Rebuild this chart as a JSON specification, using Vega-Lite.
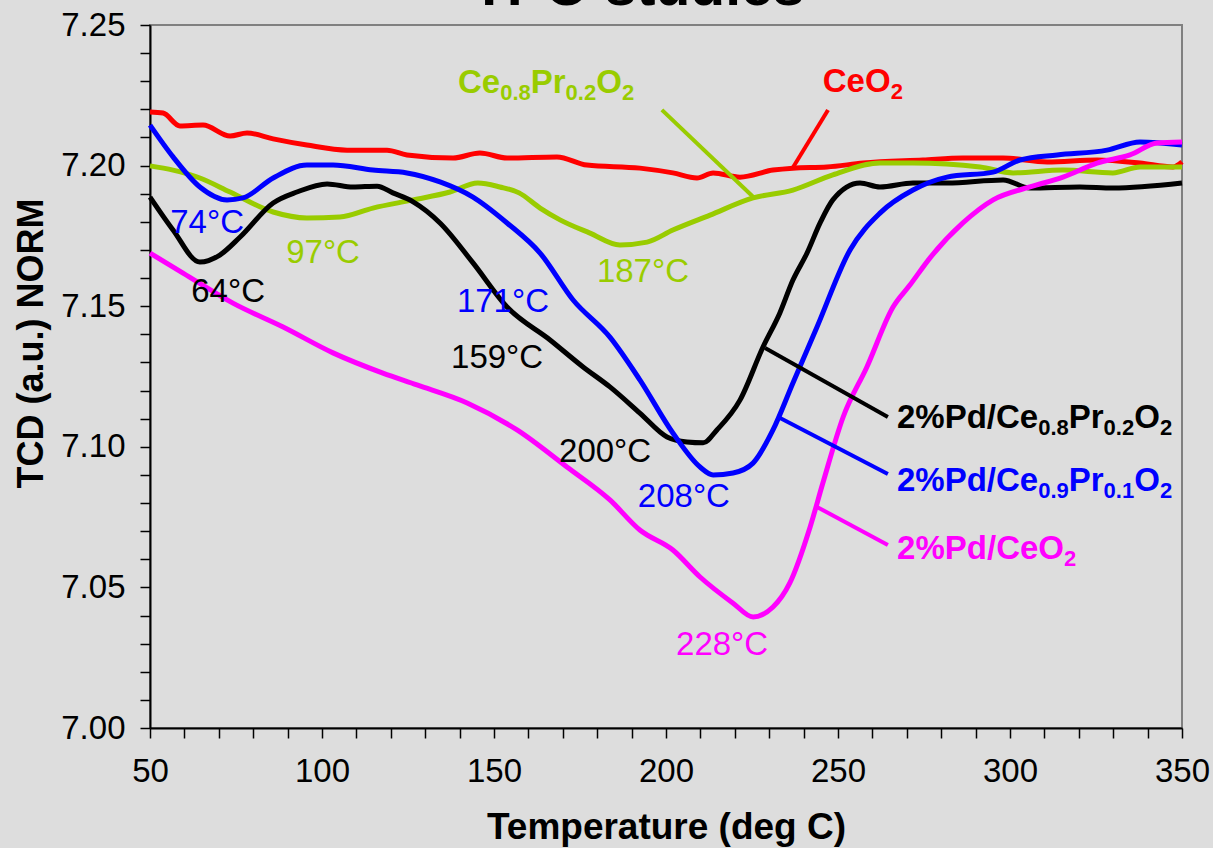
{
  "$schema": "https://vega.github.io/schema/vega-lite/v6.json",
  "width": 1032,
  "height": 703,
  "autosize": "none",
  "padding": {"left": 150, "top": 25, "right": 31, "bottom": 120},
  "background": "#dddddd",
  "config": {
    "font": "Liberation Sans",
    "view": {"stroke": "#808080", "strokeWidth": 2, "fill": "#dddddd"}
  },
  "datasets": {
    "heading": [
      {"T": 191.9, "v": 7.2570, "text": "TPO studies"}
    ],
    "curves": [
      {"s": "CeO2", "T": 50, "v": 7.2191}, {"s": "CeO2", "T": 53.8, "v": 7.2187}, {"s": "CeO2", "T": 58.7, "v": 7.2141}, {"s": "CeO2", "T": 65.4, "v": 7.2144}, {"s": "CeO2", "T": 73.3, "v": 7.2105}, {"s": "CeO2", "T": 78.2, "v": 7.2116}, {"s": "CeO2", "T": 85.8, "v": 7.2095}, {"s": "CeO2", "T": 95.6, "v": 7.2073}, {"s": "CeO2", "T": 107.3, "v": 7.2055}, {"s": "CeO2", "T": 118.9, "v": 7.2055}, {"s": "CeO2", "T": 124.7, "v": 7.2038}, {"s": "CeO2", "T": 138.1, "v": 7.2027}, {"s": "CeO2", "T": 145.9, "v": 7.2045}, {"s": "CeO2", "T": 153.8, "v": 7.2027}, {"s": "CeO2", "T": 168.3, "v": 7.2031}, {"s": "CeO2", "T": 177.0, "v": 7.2002}, {"s": "CeO2", "T": 192.4, "v": 7.1991}, {"s": "CeO2", "T": 202.0, "v": 7.1974}, {"s": "CeO2", "T": 209.0, "v": 7.1956}, {"s": "CeO2", "T": 213.7, "v": 7.1974}, {"s": "CeO2", "T": 221.5, "v": 7.1959}, {"s": "CeO2", "T": 231.1, "v": 7.1984}, {"s": "CeO2", "T": 236.9, "v": 7.1991}, {"s": "CeO2", "T": 246.8, "v": 7.1995}, {"s": "CeO2", "T": 257.3, "v": 7.2009}, {"s": "CeO2", "T": 274.7, "v": 7.2020}, {"s": "CeO2", "T": 286.3, "v": 7.2027}, {"s": "CeO2", "T": 298.0, "v": 7.2027}, {"s": "CeO2", "T": 310.8, "v": 7.2013}, {"s": "CeO2", "T": 325.3, "v": 7.2020}, {"s": "CeO2", "T": 337.8, "v": 7.2009}, {"s": "CeO2", "T": 347.4, "v": 7.1995}, {"s": "CeO2", "T": 350, "v": 7.2013},

      {"s": "Ce0.8Pr0.2O2", "T": 50, "v": 7.1999}, {"s": "Ce0.8Pr0.2O2", "T": 56.7, "v": 7.1984}, {"s": "Ce0.8Pr0.2O2", "T": 64.5, "v": 7.1956}, {"s": "Ce0.8Pr0.2O2", "T": 73.3, "v": 7.1906}, {"s": "Ce0.8Pr0.2O2", "T": 85.8, "v": 7.1835}, {"s": "Ce0.8Pr0.2O2", "T": 95.6, "v": 7.1814}, {"s": "Ce0.8Pr0.2O2", "T": 105.2, "v": 7.1817}, {"s": "Ce0.8Pr0.2O2", "T": 114.8, "v": 7.1849}, {"s": "Ce0.8Pr0.2O2", "T": 126.5, "v": 7.1878}, {"s": "Ce0.8Pr0.2O2", "T": 137.2, "v": 7.1906}, {"s": "Ce0.8Pr0.2O2", "T": 145.3, "v": 7.1938}, {"s": "Ce0.8Pr0.2O2", "T": 151.7, "v": 7.1924}, {"s": "Ce0.8Pr0.2O2", "T": 157.3, "v": 7.1903}, {"s": "Ce0.8Pr0.2O2", "T": 163.4, "v": 7.1849}, {"s": "Ce0.8Pr0.2O2", "T": 169.2, "v": 7.1807}, {"s": "Ce0.8Pr0.2O2", "T": 177.9, "v": 7.1760}, {"s": "Ce0.8Pr0.2O2", "T": 186.6, "v": 7.1718}, {"s": "Ce0.8Pr0.2O2", "T": 194.5, "v": 7.1728}, {"s": "Ce0.8Pr0.2O2", "T": 202.0, "v": 7.1771}, {"s": "Ce0.8Pr0.2O2", "T": 212.8, "v": 7.1824}, {"s": "Ce0.8Pr0.2O2", "T": 225.3, "v": 7.1885}, {"s": "Ce0.8Pr0.2O2", "T": 236.9, "v": 7.1913}, {"s": "Ce0.8Pr0.2O2", "T": 248.5, "v": 7.1967}, {"s": "Ce0.8Pr0.2O2", "T": 262.2, "v": 7.2009}, {"s": "Ce0.8Pr0.2O2", "T": 271.8, "v": 7.2009}, {"s": "Ce0.8Pr0.2O2", "T": 291.3, "v": 7.1995}, {"s": "Ce0.8Pr0.2O2", "T": 300.9, "v": 7.1974}, {"s": "Ce0.8Pr0.2O2", "T": 315.4, "v": 7.1984}, {"s": "Ce0.8Pr0.2O2", "T": 329.9, "v": 7.1974}, {"s": "Ce0.8Pr0.2O2", "T": 337.8, "v": 7.1995}, {"s": "Ce0.8Pr0.2O2", "T": 350, "v": 7.1995},

      {"s": "Pd/Ce0.8Pr0.2O2", "T": 50, "v": 7.1888}, {"s": "Pd/Ce0.8Pr0.2O2", "T": 56.7, "v": 7.1771}, {"s": "Pd/Ce0.8Pr0.2O2", "T": 64.5, "v": 7.1657}, {"s": "Pd/Ce0.8Pr0.2O2", "T": 70.3, "v": 7.1682}, {"s": "Pd/Ce0.8Pr0.2O2", "T": 76.2, "v": 7.1746}, {"s": "Pd/Ce0.8Pr0.2O2", "T": 85.8, "v": 7.1867}, {"s": "Pd/Ce0.8Pr0.2O2", "T": 92.7, "v": 7.1906}, {"s": "Pd/Ce0.8Pr0.2O2", "T": 101.5, "v": 7.1935}, {"s": "Pd/Ce0.8Pr0.2O2", "T": 109.0, "v": 7.1924}, {"s": "Pd/Ce0.8Pr0.2O2", "T": 116.0, "v": 7.1927}, {"s": "Pd/Ce0.8Pr0.2O2", "T": 120.6, "v": 7.1903}, {"s": "Pd/Ce0.8Pr0.2O2", "T": 126.5, "v": 7.1871}, {"s": "Pd/Ce0.8Pr0.2O2", "T": 134.3, "v": 7.1796}, {"s": "Pd/Ce0.8Pr0.2O2", "T": 143.9, "v": 7.1654}, {"s": "Pd/Ce0.8Pr0.2O2", "T": 153.8, "v": 7.1497}, {"s": "Pd/Ce0.8Pr0.2O2", "T": 166.3, "v": 7.1380}, {"s": "Pd/Ce0.8Pr0.2O2", "T": 175.9, "v": 7.1284}, {"s": "Pd/Ce0.8Pr0.2O2", "T": 183.7, "v": 7.1213}, {"s": "Pd/Ce0.8Pr0.2O2", "T": 192.4, "v": 7.1120}, {"s": "Pd/Ce0.8Pr0.2O2", "T": 200.3, "v": 7.1035}, {"s": "Pd/Ce0.8Pr0.2O2", "T": 206.1, "v": 7.1017}, {"s": "Pd/Ce0.8Pr0.2O2", "T": 210.8, "v": 7.1014}, {"s": "Pd/Ce0.8Pr0.2O2", "T": 214.8, "v": 7.1060}, {"s": "Pd/Ce0.8Pr0.2O2", "T": 221.5, "v": 7.1166}, {"s": "Pd/Ce0.8Pr0.2O2", "T": 228.2, "v": 7.1355}, {"s": "Pd/Ce0.8Pr0.2O2", "T": 233.1, "v": 7.1476}, {"s": "Pd/Ce0.8Pr0.2O2", "T": 236.9, "v": 7.1593}, {"s": "Pd/Ce0.8Pr0.2O2", "T": 241.0, "v": 7.1689}, {"s": "Pd/Ce0.8Pr0.2O2", "T": 244.8, "v": 7.1796}, {"s": "Pd/Ce0.8Pr0.2O2", "T": 248.5, "v": 7.1878}, {"s": "Pd/Ce0.8Pr0.2O2", "T": 256.4, "v": 7.1938}, {"s": "Pd/Ce0.8Pr0.2O2", "T": 262.2, "v": 7.1924}, {"s": "Pd/Ce0.8Pr0.2O2", "T": 271.8, "v": 7.1938}, {"s": "Pd/Ce0.8Pr0.2O2", "T": 281.7, "v": 7.1938}, {"s": "Pd/Ce0.8Pr0.2O2", "T": 298.0, "v": 7.1949}, {"s": "Pd/Ce0.8Pr0.2O2", "T": 305.8, "v": 7.1920}, {"s": "Pd/Ce0.8Pr0.2O2", "T": 320.3, "v": 7.1924}, {"s": "Pd/Ce0.8Pr0.2O2", "T": 329.9, "v": 7.1920}, {"s": "Pd/Ce0.8Pr0.2O2", "T": 350, "v": 7.1938},

      {"s": "Pd/Ce0.9Pr0.1O2", "T": 50, "v": 7.2144}, {"s": "Pd/Ce0.9Pr0.1O2", "T": 56.7, "v": 7.2031}, {"s": "Pd/Ce0.9Pr0.1O2", "T": 64.5, "v": 7.1924}, {"s": "Pd/Ce0.9Pr0.1O2", "T": 72.4, "v": 7.1878}, {"s": "Pd/Ce0.9Pr0.1O2", "T": 77.0, "v": 7.1885}, {"s": "Pd/Ce0.9Pr0.1O2", "T": 85.8, "v": 7.1956}, {"s": "Pd/Ce0.9Pr0.1O2", "T": 95.6, "v": 7.2002}, {"s": "Pd/Ce0.9Pr0.1O2", "T": 103.2, "v": 7.2002}, {"s": "Pd/Ce0.9Pr0.1O2", "T": 114.8, "v": 7.1984}, {"s": "Pd/Ce0.9Pr0.1O2", "T": 124.7, "v": 7.1974}, {"s": "Pd/Ce0.9Pr0.1O2", "T": 134.3, "v": 7.1942}, {"s": "Pd/Ce0.9Pr0.1O2", "T": 143.9, "v": 7.1888}, {"s": "Pd/Ce0.9Pr0.1O2", "T": 153.8, "v": 7.1796}, {"s": "Pd/Ce0.9Pr0.1O2", "T": 163.4, "v": 7.1689}, {"s": "Pd/Ce0.9Pr0.1O2", "T": 173.0, "v": 7.1522}, {"s": "Pd/Ce0.9Pr0.1O2", "T": 183.7, "v": 7.1390}, {"s": "Pd/Ce0.9Pr0.1O2", "T": 192.4, "v": 7.1238}, {"s": "Pd/Ce0.9Pr0.1O2", "T": 202.0, "v": 7.1049}, {"s": "Pd/Ce0.9Pr0.1O2", "T": 209.9, "v": 7.0928}, {"s": "Pd/Ce0.9Pr0.1O2", "T": 213.7, "v": 7.0900}, {"s": "Pd/Ce0.9Pr0.1O2", "T": 219.5, "v": 7.0907}, {"s": "Pd/Ce0.9Pr0.1O2", "T": 225.3, "v": 7.0942}, {"s": "Pd/Ce0.9Pr0.1O2", "T": 231.1, "v": 7.1060}, {"s": "Pd/Ce0.9Pr0.1O2", "T": 236.9, "v": 7.1227}, {"s": "Pd/Ce0.9Pr0.1O2", "T": 243.9, "v": 7.1426}, {"s": "Pd/Ce0.9Pr0.1O2", "T": 253.5, "v": 7.1700}, {"s": "Pd/Ce0.9Pr0.1O2", "T": 262.2, "v": 7.1831}, {"s": "Pd/Ce0.9Pr0.1O2", "T": 271.8, "v": 7.1913}, {"s": "Pd/Ce0.9Pr0.1O2", "T": 281.7, "v": 7.1959}, {"s": "Pd/Ce0.9Pr0.1O2", "T": 295.1, "v": 7.1977}, {"s": "Pd/Ce0.9Pr0.1O2", "T": 302.9, "v": 7.2020}, {"s": "Pd/Ce0.9Pr0.1O2", "T": 313.7, "v": 7.2038}, {"s": "Pd/Ce0.9Pr0.1O2", "T": 328.2, "v": 7.2055}, {"s": "Pd/Ce0.9Pr0.1O2", "T": 337.8, "v": 7.2084}, {"s": "Pd/Ce0.9Pr0.1O2", "T": 350, "v": 7.2073},

      {"s": "Pd/CeO2", "T": 50, "v": 7.1689}, {"s": "Pd/CeO2", "T": 59.6, "v": 7.1618}, {"s": "Pd/CeO2", "T": 74.1, "v": 7.1511}, {"s": "Pd/CeO2", "T": 88.7, "v": 7.1426}, {"s": "Pd/CeO2", "T": 103.2, "v": 7.1334}, {"s": "Pd/CeO2", "T": 117.7, "v": 7.1262}, {"s": "Pd/CeO2", "T": 127.6, "v": 7.1220}, {"s": "Pd/CeO2", "T": 142.2, "v": 7.1156}, {"s": "Pd/CeO2", "T": 156.7, "v": 7.1060}, {"s": "Pd/CeO2", "T": 171.2, "v": 7.0928}, {"s": "Pd/CeO2", "T": 183.7, "v": 7.0811}, {"s": "Pd/CeO2", "T": 192.4, "v": 7.0704}, {"s": "Pd/CeO2", "T": 202.0, "v": 7.0633}, {"s": "Pd/CeO2", "T": 209.9, "v": 7.0537}, {"s": "Pd/CeO2", "T": 219.5, "v": 7.0444}, {"s": "Pd/CeO2", "T": 225.3, "v": 7.0395}, {"s": "Pd/CeO2", "T": 231.1, "v": 7.0430}, {"s": "Pd/CeO2", "T": 236.0, "v": 7.0516}, {"s": "Pd/CeO2", "T": 241.9, "v": 7.0715}, {"s": "Pd/CeO2", "T": 245.6, "v": 7.0871}, {"s": "Pd/CeO2", "T": 251.5, "v": 7.1106}, {"s": "Pd/CeO2", "T": 258.4, "v": 7.1284}, {"s": "Pd/CeO2", "T": 266.0, "v": 7.1497}, {"s": "Pd/CeO2", "T": 270.9, "v": 7.1575}, {"s": "Pd/CeO2", "T": 276.7, "v": 7.1671}, {"s": "Pd/CeO2", "T": 286.3, "v": 7.1796}, {"s": "Pd/CeO2", "T": 295.1, "v": 7.1878}, {"s": "Pd/CeO2", "T": 305.8, "v": 7.1924}, {"s": "Pd/CeO2", "T": 315.4, "v": 7.1959}, {"s": "Pd/CeO2", "T": 325.3, "v": 7.2009}, {"s": "Pd/CeO2", "T": 334.9, "v": 7.2038}, {"s": "Pd/CeO2", "T": 342.7, "v": 7.2080}, {"s": "Pd/CeO2", "T": 350, "v": 7.2084}
    ],
    "peaks": [
      {"s": "Pd/Ce0.9Pr0.1O2", "T": 66.6, "v": 7.1760, "label": "74°C"},
      {"s": "Ce0.8Pr0.2O2", "T": 100.3, "v": 7.1654, "label": "97°C"},
      {"s": "Pd/Ce0.8Pr0.2O2", "T": 72.7, "v": 7.1515, "label": "64°C"},
      {"s": "Pd/Ce0.9Pr0.1O2", "T": 152.6, "v": 7.1479, "label": "171°C"},
      {"s": "Pd/Ce0.8Pr0.2O2", "T": 150.9, "v": 7.1280, "label": "159°C"},
      {"s": "Pd/Ce0.8Pr0.2O2", "T": 182.3, "v": 7.0946, "label": "200°C"},
      {"s": "Pd/Ce0.9Pr0.1O2", "T": 205.2, "v": 7.0786, "label": "208°C"},
      {"s": "Pd/CeO2", "T": 216.3, "v": 7.0260, "label": "228°C"},
      {"s": "Ce0.8Pr0.2O2", "T": 193.3, "v": 7.1586, "label": "187°C"}
    ],
    "leaders": [
      {"s": "Ce0.8Pr0.2O2", "T1": 198.8, "v1": 7.2198, "T2": 225.3, "v2": 7.1889},
      {"s": "CeO2", "T1": 247.1, "v1": 7.2198, "T2": 236.9, "v2": 7.1993},
      {"s": "Pd/Ce0.8Pr0.2O2", "T1": 264.5, "v1": 7.1106, "T2": 228.8, "v2": 7.1351},
      {"s": "Pd/Ce0.9Pr0.1O2", "T1": 264.5, "v1": 7.0903, "T2": 232.6, "v2": 7.1106},
      {"s": "Pd/CeO2", "T1": 264.5, "v1": 7.0651, "T2": 243.9, "v2": 7.0786}
    ],
    "names": [
      {"s": "Ce0.8Pr0.2O2", "T": 151.8, "v": 7.2258, "pre": "Ce", "s1": "0.8", "m2": "Pr", "s2": "0.2", "m3": "O", "s3": "2"},
      {"s": "CeO2", "T": 265.3, "v": 7.2262, "pre": "CeO", "s1": "2", "m2": "", "s2": "", "m3": "", "s3": ""},
      {"s": "Pd/Ce0.8Pr0.2O2", "T": 308.2, "v": 7.1067, "pre": "2%Pd/Ce", "s1": "0.8", "m2": "Pr", "s2": "0.2", "m3": "O", "s3": "2"},
      {"s": "Pd/Ce0.9Pr0.1O2", "T": 308.2, "v": 7.0843, "pre": "2%Pd/Ce", "s1": "0.9", "m2": "Pr", "s2": "0.1", "m3": "O", "s3": "2"},
      {"s": "Pd/CeO2", "T": 315.7, "v": 7.0601, "pre": "2%Pd/CeO", "s1": "2", "m2": "", "s2": "", "m3": "", "s3": ""}
    ]
  },
  "encoding": {
    "x": {
      "field": "T", "type": "quantitative",
      "scale": {"domain": [50, 350], "nice": false, "zero": false},
      "axis": {
        "title": "Temperature (deg C)",
        "values": [50, 60, 70, 80, 90, 100, 110, 120, 130, 140, 150, 160, 170, 180, 190, 200, 210, 220, 230, 240, 250, 260, 270, 280, 290, 300, 310, 320, 330, 340, 350],
        "labelExpr": "datum.value % 50 == 0 ? datum.label : ''",
        "format": "d",
        "labelFont": "Liberation Sans",
        "labelFontSize": 33,
        "labelColor": "black",
        "labelPadding": 17,
        "labelOverlap": false,
        "labelFlush": false,
        "tickSize": 10,
        "tickColor": "black",
        "tickWidth": 1.5,
        "domainColor": "black",
        "domainWidth": 2,
        "grid": false,
        "titleFont": "Liberation Sans",
        "titleFontSize": 37,
        "titleFontWeight": "bold",
        "titleColor": "black",
        "titleBaseline": "alphabetic",
        "titleY": 110,
        "encode": {"ticks": {"y": {"value": -7}, "y2": {"value": {"expr": "datum.value % 50 == 0 ? 10 : 0"}}}}
      }
    },
    "y": {
      "field": "v", "type": "quantitative",
      "scale": {"domain": [7.0, 7.25], "nice": false, "zero": false},
      "axis": {
        "title": "TCD (a.u.) NORM",
        "values": [7.0, 7.01, 7.02, 7.03, 7.04, 7.05, 7.06, 7.07, 7.08, 7.09, 7.1, 7.11, 7.12, 7.13, 7.14, 7.15, 7.16, 7.17, 7.18, 7.19, 7.2, 7.21, 7.22, 7.23, 7.24, 7.25],
        "labelExpr": "round(datum.value*100) % 5 == 0 ? format(datum.value, '.2f') : ''",
        "labelFont": "Liberation Sans",
        "labelFontSize": 33,
        "labelColor": "black",
        "labelPadding": 15,
        "labelOverlap": false,
        "labelFlush": false,
        "tickSize": 10,
        "tickColor": "black",
        "tickWidth": 1.5,
        "domainColor": "black",
        "domainWidth": 2,
        "grid": false,
        "titleFont": "Liberation Sans",
        "titleFontSize": 36,
        "titleFontWeight": "bold",
        "titleColor": "black",
        "titleAngle": 270,
        "titleBaseline": "alphabetic",
        "titleAlign": "center",
        "titleX": -108,
        "titleY": 318,
        "encode": {"ticks": {"x2": {"value": {"expr": "round(datum.value*100) % 5 == 0 ? -10 : 8"}}}}
      }
    },
    "color": {
      "field": "s", "type": "nominal", "legend": null,
      "scale": {
        "domain": ["Pd/CeO2", "Ce0.8Pr0.2O2", "CeO2", "Pd/Ce0.8Pr0.2O2", "Pd/Ce0.9Pr0.1O2"],
        "range": ["#ff00ff", "#99cc00", "#ff0000", "#000000", "#0000ff"]
      }
    }
  },
  "layer": [
    {"data": {"name": "curves"}, "mark": {"type": "line", "strokeWidth": 5, "interpolate": "monotone"}},
    {"data": {"name": "leaders"}, "mark": {"type": "rule", "strokeWidth": 4},
     "encoding": {"x": {"field": "T1", "type": "quantitative"}, "y": {"field": "v1", "type": "quantitative"}, "x2": {"field": "T2"}, "y2": {"field": "v2"}}},
    {"data": {"name": "peaks"}, "mark": {"type": "text", "fontSize": 33, "font": "Liberation Sans", "align": "center", "baseline": "alphabetic"},
     "encoding": {"text": {"field": "label"}}},
    {"data": {"name": "names"}, "mark": {"type": "text", "fontSize": 33, "fontWeight": "bold", "font": "Liberation Sans", "align": "right", "baseline": "alphabetic"},
     "encoding": {"text": {"field": "pre"}}},
    {"data": {"name": "names"}, "mark": {"type": "text", "fontSize": 22, "fontWeight": "bold", "font": "Liberation Sans", "align": "left", "baseline": "alphabetic", "dy": 7},
     "encoding": {"text": {"field": "s1"}}},
    {"data": {"name": "names"}, "mark": {"type": "text", "fontSize": 33, "fontWeight": "bold", "font": "Liberation Sans", "align": "left", "baseline": "alphabetic", "dx": 30.6},
     "encoding": {"text": {"field": "m2"}}},
    {"data": {"name": "names"}, "mark": {"type": "text", "fontSize": 22, "fontWeight": "bold", "font": "Liberation Sans", "align": "left", "baseline": "alphabetic", "dx": 65.4, "dy": 7},
     "encoding": {"text": {"field": "s2"}}},
    {"data": {"name": "names"}, "mark": {"type": "text", "fontSize": 33, "fontWeight": "bold", "font": "Liberation Sans", "align": "left", "baseline": "alphabetic", "dx": 96.0},
     "encoding": {"text": {"field": "m3"}}},
    {"data": {"name": "names"}, "mark": {"type": "text", "fontSize": 22, "fontWeight": "bold", "font": "Liberation Sans", "align": "left", "baseline": "alphabetic", "dx": 121.7, "dy": 7},
     "encoding": {"text": {"field": "s3"}}},
    {"data": {"name": "heading"}, "mark": {"type": "text", "fontSize": 57, "fontWeight": "bold", "font": "Liberation Sans", "align": "center", "baseline": "alphabetic", "color": "black"},
     "encoding": {"text": {"field": "text"}, "color": {"value": "black"}}}
  ]
}
